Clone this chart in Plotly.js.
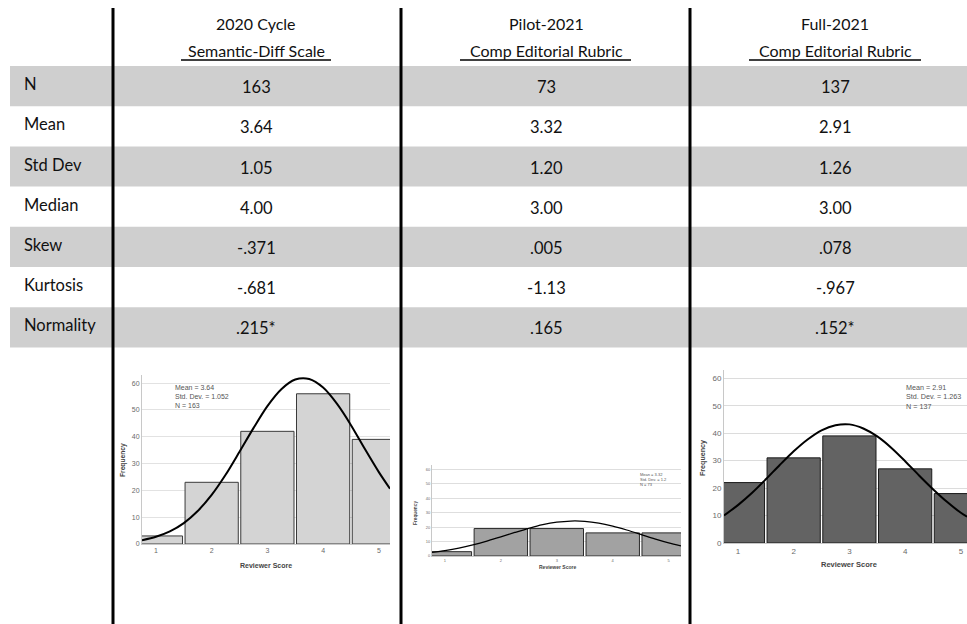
<!DOCTYPE html>
<html><head><meta charset="utf-8">
<script src="https://cdn.plot.ly/plotly-3.0.1.min.js"></script>
<style>html,body{margin:0;padding:0;background:#fff;}#chart{width:967px;height:624px;}</style>
</head><body><div id="chart"></div>
<script>
// ---- data ----
const columnTitles = ["2020 Cycle", "Pilot-2021", "Full-2021"];
const columnSubtitles = ["Semantic-Diff Scale", "Comp Editorial Rubric", "Comp Editorial Rubric"];
const rowLabels = ["N", "Mean", "Std Dev", "Median", "Skew", "Kurtosis", "Normality"];
const stats2020 = ["163", "3.64", "1.05", "4.00", "-.371", "-.681", ".215*"];
const statsPilot = ["73", "3.32", "1.20", "3.00", ".005", "-1.13", ".165"];
const statsFull = ["137", "2.91", "1.26", "3.00", ".078", "-.967", ".152*"];

const scores = [1, 2, 3, 4, 5];
const freq2020 = [3, 23, 42, 56, 39];
const freqPilot = [3, 19, 19, 16, 16];
const freqFull = [22, 31, 39, 27, 18];

const legend2020 = ["Mean = 3.64", "Std. Dev. = 1.052", "N = 163"];
const legendPilot = ["Mean = 3.32", "Std. Dev. = 1.2", "N = 73"];
const legendFull = ["Mean = 2.91", "Std. Dev. = 1.263", "N = 137"];

const curveX2020 = [0.75, 1, 1.25, 1.5, 1.75, 2, 2.25, 2.5, 2.75, 3, 3.25, 3.5, 3.75, 4, 4.25, 4.5, 4.75, 5, 5.2];
const curveY2020 = [1.4, 2.7, 4.7, 7.8, 12.3, 18.3, 25.8, 34.4, 43.2, 51.4, 57.7, 61.3, 61.5, 58.3, 52.2, 44.3, 35.4, 26.8, 20.6];
const curveXPilot = [0.77, 1, 1.25, 1.5, 1.75, 2, 2.25, 2.5, 2.75, 3, 3.25, 3.5, 3.75, 4, 4.25, 4.5, 4.75, 5, 5.22];
const curveYPilot = [2.5, 3.75, 5.5, 7.7, 10.3, 13.3, 16.3, 19.2, 21.7, 23.4, 24.2, 24.0, 22.8, 20.7, 18.0, 15.0, 11.9, 9.1, 7.0];
const curveXFull = [0.75, 1, 1.25, 1.5, 1.75, 2, 2.25, 2.5, 2.75, 3, 3.25, 3.5, 3.75, 4, 4.25, 4.5, 4.75, 5, 5.11];
const curveYFull = [10.0, 13.8, 18.2, 23.2, 28.4, 33.4, 37.7, 41.05, 42.9, 43.2, 41.7, 38.8, 34.7, 29.8, 24.6, 19.6, 15.0, 11.0, 9.6];

// ---- layout helpers ----
const W = 967, H = 624;
const px = x => x / W;
const py = y => 1 - y / H;
const FONT = "Lato, 'Liberation Sans', sans-serif";
const SMALL = "'Liberation Sans', Arial, sans-serif";

const shapes = [];
const annotations = [];

// table rows
const rowTop = 66, rowH = 40.2;
rowLabels.forEach((lab, i) => {
  const top = rowTop + i * rowH;
  if (i % 2 === 0) {
    shapes.push({type: "rect", xref: "paper", yref: "paper", x0: px(10), x1: px(967), y0: py(top + rowH), y1: py(top),
      fillcolor: "#cfcfcf", line: {width: 0}, layer: "below"});
  }
  annotations.push({xref: "paper", yref: "paper", x: px(22), y: py(top + rowH / 2 - 2), xanchor: "left", yanchor: "middle",
    text: lab, showarrow: false, font: {family: FONT, size: 16.5, color: "#111"}});
});
const colCenters = [256, 546, 835];
const colStats = [stats2020, statsPilot, statsFull];
colStats.forEach((arr, c) => {
  arr.forEach((v, i) => {
    const top = rowTop + i * rowH;
    annotations.push({xref: "paper", yref: "paper", x: px(colCenters[c]), y: py(top + rowH / 2 + 1), xanchor: "center", yanchor: "middle",
      text: v, showarrow: false, font: {family: FONT, size: 16.5, color: "#111"}});
  });
  annotations.push({xref: "paper", yref: "paper", x: px(colCenters[c]), y: py(24), xanchor: "center", yanchor: "middle",
    text: columnTitles[c], showarrow: false, font: {family: FONT, size: 16, color: "#111"}});
  annotations.push({xref: "paper", yref: "paper", x: px(colCenters[c]), y: py(50), xanchor: "center", yanchor: "middle",
    text: columnSubtitles[c], showarrow: false, font: {family: FONT, size: 16, color: "#111"}});
});
// underlines
[[181, 331], [460, 631], [749, 921]].forEach(u => {
  shapes.push({type: "line", xref: "paper", yref: "paper", x0: px(u[0]), x1: px(u[1]), y0: py(60), y1: py(60),
    line: {color: "#000", width: 1.5}});
});
// vertical separators
[113, 401, 690].forEach(x => {
  shapes.push({type: "line", xref: "paper", yref: "paper", x0: px(x), x1: px(x), y0: py(8), y1: py(624),
    line: {color: "#000", width: 3}});
});

// ---- histogram axes ----
function yax(domTop, domBot, fs, grid, line) {
  return {domain: [py(domBot), py(domTop)], range: [0, 63], tickvals: [0, 10, 20, 30, 40, 50, 60], showgrid: true,
    gridcolor: grid, gridwidth: 1, zeroline: false, showline: true, linecolor: line, linewidth: 1, ticks: "",
    tickfont: {family: SMALL, size: fs, color: "#6a6a6a"}, fixedrange: true};
}
function xax(l, r, range, fs, anchor) {
  return {domain: [px(l), px(r)], range: range, tickvals: scores, showgrid: false, zeroline: false, showline: true,
    linecolor: "#c8c8c8", linewidth: 1, ticks: "", tickfont: {family: SMALL, size: fs, color: "#6a6a6a"}, anchor: anchor, fixedrange: true};
}

const layout = {
  width: W, height: H, margin: {l: 0, r: 0, t: 0, b: 0}, paper_bgcolor: "#fff", plot_bgcolor: "rgba(0,0,0,0)",
  showlegend: false, bargap: 0.05,
  xaxis: xax(142, 390, [0.75, 5.2], 7, "y"),
  yaxis: Object.assign(yax(375, 544, 7, "#e2e2e2", "#c8c8c8"), {anchor: "x"}),
  xaxis2: xax(432, 681, [0.77, 5.22], 4, "y2"),
  yaxis2: Object.assign(yax(465, 556, 4, "#dedede", "#c8c8c8"), {anchor: "x2"}),
  xaxis3: xax(724, 967, [0.75, 5.11], 8, "y3"),
  yaxis3: Object.assign(yax(370, 543, 8, "#dcdcdc", "#c8c8c8"), {anchor: "x3"}),
  shapes: shapes, annotations: annotations
};

// histogram captions
function captions(cx, xTitleY, fx, fy, fs, legendLines, lx, ly, lfs) {
  annotations.push({xref: "paper", yref: "paper", x: px(cx), y: py(xTitleY), xanchor: "center", yanchor: "middle",
    text: "<b>Reviewer Score</b>", showarrow: false, font: {family: SMALL, size: fs, color: "#444"}});
  annotations.push({xref: "paper", yref: "paper", x: px(fx), y: py(fy), xanchor: "center", yanchor: "middle", textangle: -90,
    text: "<b>Frequency</b>", showarrow: false, font: {family: SMALL, size: fs * 0.95, color: "#444"}});
  annotations.push({xref: "paper", yref: "paper", x: px(lx), y: py(ly), xanchor: "left", yanchor: "top", align: "left",
    text: legendLines.join("<br>"), showarrow: false, font: {family: SMALL, size: lfs, color: "#555"}});
}
captions(266, 565, 123, 460, 7, legend2020, 173, 382, 7);
captions(557, 567, 415, 513, 5, legendPilot, 638, 470, 4);
captions(849, 564, 703, 458, 7.5, legendFull, 904, 381, 7.2);

const bar = (y, xa, ya, fill, lc) => ({type: "bar", x: scores, y: y, xaxis: xa, yaxis: ya, width: 0.955,
  marker: {color: fill, line: {color: lc, width: 1}}, hoverinfo: "skip"});
const curve = (x, y, xa, ya, w) => ({type: "scatter", mode: "lines", x: x, y: y, xaxis: xa, yaxis: ya,
  line: {color: "#000", width: w, shape: "spline", smoothing: 0.8}, hoverinfo: "skip"});

const data = [
  bar(freq2020, "x", "y", "#d4d4d4", "#3a3a3a"),
  curve(curveX2020, curveY2020, "x", "y", 2),
  bar(freqPilot, "x2", "y2", "#a2a2a2", "#2a2a2a"),
  curve(curveXPilot, curveYPilot, "x2", "y2", 1.3),
  bar(freqFull, "x3", "y3", "#636363", "#1a1a1a"),
  curve(curveXFull, curveYFull, "x3", "y3", 2)
];

Plotly.newPlot("chart", data, layout, {staticPlot: true, displayModeBar: false});
</script>
</body></html>
